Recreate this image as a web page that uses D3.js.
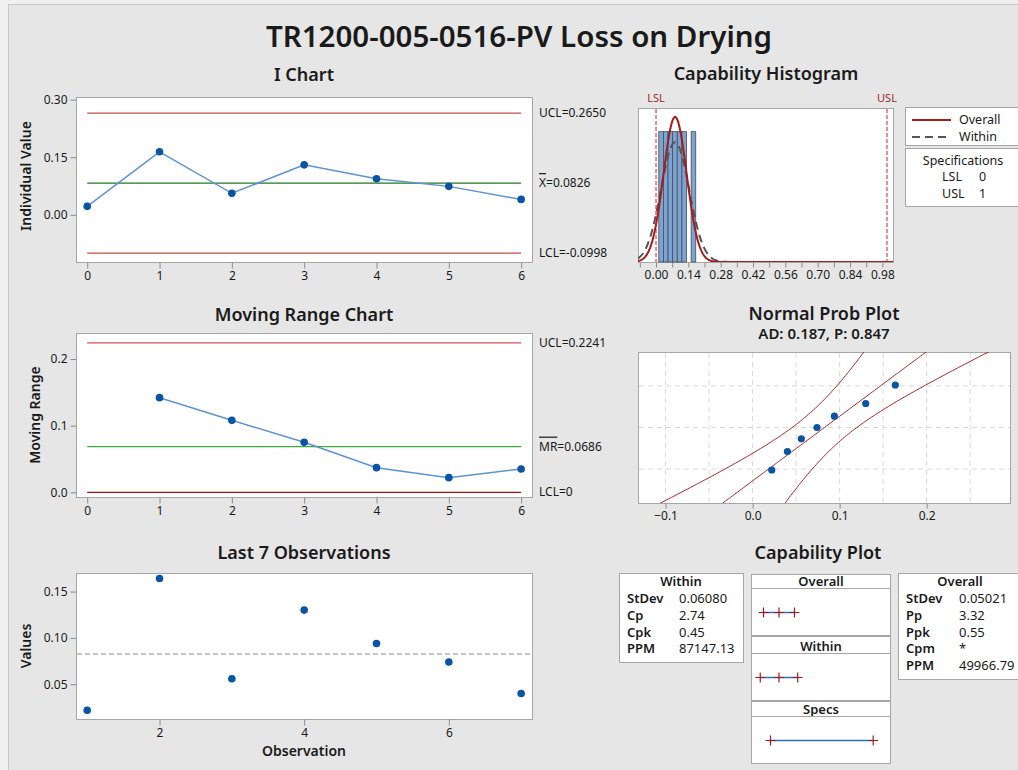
<!DOCTYPE html>
<html>
<head>
<meta charset="utf-8">
<script src="https://cdn.jsdelivr.net/npm/d3@7"></script>
<style>
body { margin: 0; background: #f0f0f0; }
svg text { font-family: "Noto Sans", "Open Sans", sans-serif; fill: #1a1a1a; }
.tick text { font-size: 12px; }
.tick line { stroke: #8c8c8c; }
</style>
</head>
<body>
<script>
var subgroups = [0, 1, 2, 3, 4, 5, 6];
var observations = [0.022, 0.164, 0.056, 0.130, 0.094, 0.074, 0.040];
var movingRanges = [null, 0.142, 0.108, 0.075, 0.037, 0.022, 0.035];
var obsNumbers = [1, 2, 3, 4, 5, 6, 7];
var iLimits = [0.2650, 0.0826, -0.0998];
var mrLimits = [0.2241, 0.0686, 0];
var specLimits = [0, 1];
var processMean = 0.0826, sdWithin = 0.06080, sdOverall = 0.05021;
var histEdges = [0.012, 0.032, 0.052, 0.072, 0.092, 0.112, 0.132, 0.152, 0.172];
var histTicks = [0, 0.14, 0.28, 0.42, 0.56, 0.70, 0.84, 0.98];
var probScores = [-1.31, -0.74, -0.35, 0, 0.35, 0.74, 1.31];
var probGridScores = [-1.2816, 0, 1.2816];
var probTicks = [-0.1, 0.0, 0.1, 0.2];
var withinRows = [['StDev', '0.06080'], ['Cp', '2.74'], ['Cpk', '0.45'], ['PPM', '87147.13']];
var overallRows = [['StDev', '0.05021'], ['Pp', '3.32'], ['Ppk', '0.55'], ['Cpm', '*'], ['PPM', '49966.79']];

var width = 1018, height = 770;
var svg = d3.select('body').append('svg')
    .attr('width', width)
    .attr('height', height);

//frame
svg.append('rect').attr('x', 8.5).attr('y', 4.5).attr('width', 1030).attr('height', 790)
    .attr('fill', '#e6e6e6').attr('stroke', '#c8c8c8');

svg.append('text').attr('x', 519).attr('y', 47).attr('text-anchor', 'middle')
    .style('font-size', '29.5px').style('font-weight', 600)
    .text('TR1200-005-0516-PV Loss on Drying');

function panelTitle(x, y, txt, size) {
    svg.append('text').attr('x', x).attr('y', y).attr('text-anchor', 'middle')
        .style('font-size', (size || 18) + 'px').style('font-weight', 600).text(txt);
}

function plotBox(x0, y0, x1, y1) {
    svg.append('rect').attr('x', x0 + 0.5).attr('y', y0 + 0.5)
        .attr('width', x1 - x0).attr('height', y1 - y0)
        .attr('fill', '#fff').attr('stroke', '#a6a6a6');
}

function drawAxes(x, y, xt, yt, xf, yf) {
    var xr = x.range(), yr = y.range();
    var gx = svg.append('g').attr('transform', 'translate(0,' + (yr[0] + 0.5) + ')')
        .call(d3.axisBottom(x).tickValues(xt).tickFormat(xf).tickSize(6).tickPadding(3));
    gx.select('.domain').remove();
    var gy = svg.append('g').attr('transform', 'translate(' + (xr[0] + 0.5) + ',0)')
        .call(d3.axisLeft(y).tickValues(yt).tickFormat(yf).tickSize(6).tickPadding(3));
    gy.select('.domain').remove();
}

function axisTitle(x, y, txt, rot) {
    svg.append('text').attr('transform', 'translate(' + x + ',' + y + ')' + (rot ? ' rotate(-90)' : ''))
        .attr('text-anchor', 'middle').style('font-size', '14px').style('font-weight', 600).text(txt);
}

function hline(x, y, xa, xb, v, color) {
    svg.append('line').attr('x1', x(xa)).attr('x2', x(xb))
        .attr('y1', y(v)).attr('y2', y(v)).attr('stroke', color).attr('stroke-width', 1.3);
}

function limitLabel(xp, yp, parts) {
    var t = svg.append('text').attr('x', xp).attr('y', yp + 4).style('font-size', '12px');
    parts.forEach(function(p) {
        t.append('tspan').style('text-decoration', p[1] ? 'overline' : null).text(p[0]);
    });
}

// ---------- I Chart ----------
var xI = d3.scaleLinear().domain([-0.155, 6.15]).range([76, 532]);
var yI = d3.scaleLinear().domain([-0.123, 0.3068]).range([262, 97]);
panelTitle(304, 81, 'I Chart');
plotBox(76, 97, 532, 262);
drawAxes(xI, yI, subgroups, [0, 0.15, 0.30], d3.format('d'), d3.format('.2f'));
axisTitle(31, 176, 'Individual Value', true);
hline(xI, yI, 0, 6, iLimits[0], '#c0504d');
hline(xI, yI, 0, 6, iLimits[1], '#1f7a1f');
hline(xI, yI, 0, 6, iLimits[2], '#c0504d');
svg.append('path').datum(observations)
    .attr('d', d3.line().x(function(d, i) { return xI(subgroups[i]); }).y(function(d) { return yI(d); }))
    .attr('fill', 'none').attr('stroke', '#5e92d2').attr('stroke-width', 1.5);
svg.selectAll('.iDot').data(observations).enter().append('circle')
    .attr('cx', function(d, i) { return xI(subgroups[i]); }).attr('cy', function(d) { return yI(d); })
    .attr('r', 3.8).attr('fill', '#0a54a5');
limitLabel(539, yI(iLimits[0]), [['UCL=0.2650']]);
limitLabel(539, yI(iLimits[1]), [['X', true], ['=0.0826']]);
limitLabel(539, yI(iLimits[2]), [['LCL=-0.0998']]);

// ---------- Moving Range ----------
var yMR = d3.scaleLinear().domain([-0.007, 0.239]).range([497, 333]);
panelTitle(304, 321, 'Moving Range Chart');
plotBox(76, 333, 532, 497);
drawAxes(xI, yMR, subgroups, [0, 0.1, 0.2], d3.format('d'), d3.format('.1f'));
axisTitle(40, 415, 'Moving Range', true);
hline(xI, yMR, 0, 6, mrLimits[0], '#cc5555');
hline(xI, yMR, 0, 6, mrLimits[1], '#3daa3d');
hline(xI, yMR, 0, 6, mrLimits[2], '#a01010');
var mrPts = movingRanges.map(function(d, i) { return [subgroups[i], d]; }).filter(function(d) { return d[1] !== null; });
svg.append('path').datum(mrPts)
    .attr('d', d3.line().x(function(d) { return xI(d[0]); }).y(function(d) { return yMR(d[1]); }))
    .attr('fill', 'none').attr('stroke', '#5e92d2').attr('stroke-width', 1.5);
svg.selectAll('.mrDot').data(mrPts).enter().append('circle')
    .attr('cx', function(d) { return xI(d[0]); }).attr('cy', function(d) { return yMR(d[1]); })
    .attr('r', 3.8).attr('fill', '#0a54a5');
limitLabel(539, yMR(mrLimits[0]), [['UCL=0.2241']]);
limitLabel(539, yMR(mrLimits[1]), [['MR', true], ['=0.0686']]);
limitLabel(539, yMR(mrLimits[2]), [['LCL=0']]);

// ---------- Last 7 Observations ----------
var xL = d3.scaleLinear().domain([0.845, 7.15]).range([76, 532]);
var yL = d3.scaleLinear().domain([0.0125, 0.170]).range([719, 573]);
panelTitle(304, 559, 'Last 7 Observations');
plotBox(76, 573, 532, 719);
drawAxes(xL, yL, [2, 4, 6], [0.05, 0.10, 0.15], d3.format('d'), d3.format('.2f'));
axisTitle(31, 646, 'Values', true);
axisTitle(304, 756, 'Observation', false);
svg.append('line').attr('x1', 77).attr('x2', 532).attr('y1', yL(processMean)).attr('y2', yL(processMean))
    .attr('stroke', '#b4b4b4').attr('stroke-width', 1.3).attr('stroke-dasharray', '5,3');
svg.selectAll('.lDot').data(observations).enter().append('circle')
    .attr('cx', function(d, i) { return xL(obsNumbers[i]); }).attr('cy', function(d) { return yL(d); })
    .attr('r', 3.8).attr('fill', '#0a54a5');

// ---------- Capability Histogram ----------
var xH = d3.scaleLinear().domain([-0.078, 1.026]).range([638, 893]);
var yH = d3.scaleLinear().domain([0, 8.44]).range([262, 108]);
panelTitle(766, 80, 'Capability Histogram');
plotBox(638, 108, 893, 262);
var gxH = svg.append('g').attr('transform', 'translate(0,262.5)')
    .call(d3.axisBottom(xH).tickValues(d3.range(-0.07, 1.0, 0.07)).tickFormat(function(d) {
        var m = histTicks.find(function(t) { return Math.abs(t - d) < 1e-6; });
        return m === undefined ? '' : d3.format('.2f')(m);
    }).tickSize(5).tickPadding(3));
gxH.select('.domain').remove();
var bins = d3.bin().domain([histEdges[0], histEdges[histEdges.length - 1]]).thresholds(histEdges.slice(1, -1))(observations);
var n = observations.length;
svg.selectAll('.bar').data(bins.filter(function(b) { return b.length > 0; })).enter().append('rect')
    .attr('x', function(b) { return xH(b.x0); })
    .attr('width', function(b) { return xH(b.x1) - xH(b.x0); })
    .attr('y', function(b) { return yH(b.length / (n * (b.x1 - b.x0))); })
    .attr('height', function(b) { return 262 - yH(b.length / (n * (b.x1 - b.x0))); })
    .attr('fill', '#7aa3d6').attr('stroke', '#4d4d4d').attr('stroke-width', 0.8);
svg.append('clipPath').attr('id', 'hclip').append('rect').attr('x', 638).attr('y', 108).attr('width', 255).attr('height', 154);
function normPdf(x, m, s) { return Math.exp(-0.5 * Math.pow((x - m) / s, 2)) / (s * Math.sqrt(2 * Math.PI)); }
var gridX = d3.range(-0.08, 1.03, 0.002);
svg.append('path').datum(gridX).attr('clip-path', 'url(#hclip)')
    .attr('d', d3.line().x(function(d) { return xH(d); }).y(function(d) { return yH(normPdf(d, processMean, sdWithin)); }))
    .attr('fill', 'none').attr('stroke', '#555').attr('stroke-width', 2).attr('stroke-dasharray', '8,5');
svg.append('path').datum(gridX).attr('clip-path', 'url(#hclip)')
    .attr('d', d3.line().x(function(d) { return xH(d); }).y(function(d) { return yH(normPdf(d, processMean, sdOverall)); }))
    .attr('fill', 'none').attr('stroke', '#a61b1b').attr('stroke-width', 2);
specLimits.forEach(function(s, i) {
    svg.append('line').attr('x1', xH(s)).attr('x2', xH(s)).attr('y1', 109).attr('y2', 262)
        .attr('stroke', '#e01b1b').attr('stroke-width', 1).attr('stroke-dasharray', '4,2');
    svg.append('text').attr('x', xH(s)).attr('y', 102).attr('text-anchor', 'middle')
        .style('font-size', '11px').style('fill', '#9c2a2a').text(i === 0 ? 'LSL' : 'USL');
});
// legend
svg.append('rect').attr('x', 905.5).attr('y', 107.5).attr('width', 130).attr('height', 38)
    .attr('fill', '#fff').attr('stroke', '#a6a6a6');
svg.append('line').attr('x1', 912).attr('x2', 951).attr('y1', 120).attr('y2', 120).attr('stroke', '#a61b1b').attr('stroke-width', 2);
svg.append('line').attr('x1', 912).attr('x2', 951).attr('y1', 137).attr('y2', 137).attr('stroke', '#555').attr('stroke-width', 2).attr('stroke-dasharray', '8,5');
svg.append('text').attr('x', 959).attr('y', 124).style('font-size', '12.5px').text('Overall');
svg.append('text').attr('x', 959).attr('y', 141).style('font-size', '12.5px').text('Within');
svg.append('rect').attr('x', 905.5).attr('y', 148.5).attr('width', 130).attr('height', 58)
    .attr('fill', '#fff').attr('stroke', '#a6a6a6');
svg.append('text').attr('x', 963).attr('y', 165).attr('text-anchor', 'middle').style('font-size', '12.5px').text('Specifications');
['LSL', 'USL'].forEach(function(lbl, i) {
    svg.append('text').attr('x', 942).attr('y', 181 + i * 17).style('font-size', '12.5px').text(lbl);
    svg.append('text').attr('x', 979).attr('y', 181 + i * 17).style('font-size', '12.5px').text(specLimits[i]);
});

// ---------- Normal Prob Plot ----------
var xN = d3.scaleLinear().domain([-0.1317, 0.2958]).range([638, 1010]);
var yN = d3.scaleLinear().domain([-2.326, 2.326]).range([503, 352]);
panelTitle(824, 320, 'Normal Prob Plot');
svg.append('text').attr('x', 824).attr('y', 339).attr('text-anchor', 'middle')
    .style('font-size', '15px').style('font-weight', 600).text('AD: 0.187, P: 0.847');
plotBox(638, 352, 1010, 503);
d3.range(-0.1, 0.26, 0.05).forEach(function(v) {
    svg.append('line').attr('x1', xN(v)).attr('x2', xN(v)).attr('y1', 353).attr('y2', 503)
        .attr('stroke', '#d9d9d9').attr('stroke-dasharray', '5,4');
});
probGridScores.forEach(function(z) {
    svg.append('line').attr('x1', 639).attr('x2', 1010).attr('y1', yN(z)).attr('y2', yN(z))
        .attr('stroke', '#d9d9d9').attr('stroke-dasharray', '5,4');
});
var gxN = svg.append('g').attr('transform', 'translate(0,503.5)')
    .call(d3.axisBottom(xN).tickValues(probTicks).tickFormat(d3.format('.1f')).tickSize(5).tickPadding(3));
gxN.select('.domain').remove();
svg.append('clipPath').attr('id', 'nclip').append('rect').attr('x', 638).attr('y', 352).attr('width', 372).attr('height', 151);
var zGrid = d3.range(-2.6, 2.61, 0.05);
function band(k) {
    return d3.line()
        .x(function(z) { return xN(processMean + z * sdOverall + k * 1.96 * sdOverall * Math.sqrt((1 + z * z / 2) / n)); })
        .y(function(z) { return yN(z); });
}
[-1, 0, 1].forEach(function(k) {
    svg.append('path').datum(zGrid).attr('clip-path', 'url(#nclip)')
        .attr('d', band(k)).attr('fill', 'none').attr('stroke', '#a52a2a').attr('stroke-width', 1);
});
var sorted = observations.slice().sort(d3.ascending);
svg.selectAll('.nDot').data(sorted).enter().append('circle')
    .attr('cx', function(d) { return xN(d); }).attr('cy', function(d, i) { return yN(probScores[i]); })
    .attr('r', 3.6).attr('fill', '#0a54a5');

// ---------- Capability Plot ----------
panelTitle(818, 559, 'Capability Plot');
function statBox(x0, y0, w, h, head, rows, lx, vx) {
    svg.append('rect').attr('x', x0 + 0.5).attr('y', y0 + 0.5).attr('width', w).attr('height', h)
        .attr('fill', '#fff').attr('stroke', '#a6a6a6');
    svg.append('text').attr('x', x0 + w / 2).attr('y', y0 + 13).attr('text-anchor', 'middle')
        .style('font-size', '13px').style('font-weight', 600).text(head);
    rows.forEach(function(r, i) {
        svg.append('text').attr('x', lx).attr('y', y0 + 30 + i * 16.8).style('font-size', '13px').style('font-weight', 600).text(r[0]);
        svg.append('text').attr('x', vx).attr('y', y0 + 30 + i * 16.8).style('font-size', '13px').text(r[1]);
    });
}
statBox(619, 573, 124, 89, 'Within', withinRows, 627, 679);
statBox(898, 573, 124, 106, 'Overall', overallRows, 906, 959);

var xC = d3.scaleLinear().domain([-0.19, 1.1636]).range([751, 890]);
var capRows = [
    ['Overall', [processMean - 3 * sdOverall, processMean, processMean + 3 * sdOverall]],
    ['Within', [processMean - 3 * sdWithin, processMean, processMean + 3 * sdWithin]],
    ['Specs', specLimits]
];
var capTop = [574, 636, 701], capHead = [14, 17, 15];
capRows.forEach(function(r, i) {
    var t = capTop[i], hh = capHead[i], pb = t + hh + 47;
    svg.append('rect').attr('x', 751.5).attr('y', t + 0.5).attr('width', 139).attr('height', hh)
        .attr('fill', '#fff').attr('stroke', '#a6a6a6');
    svg.append('text').attr('x', 821).attr('y', t + hh - 2.5).attr('text-anchor', 'middle')
        .style('font-size', '13px').style('font-weight', 600).text(r[0]);
    svg.append('rect').attr('x', 751.5).attr('y', t + hh + 0.5).attr('width', 139).attr('height', 47)
        .attr('fill', '#fff').attr('stroke', '#a6a6a6');
    var cy = t + hh + 24.5;
    var ext = d3.extent(r[1]);
    svg.append('line').attr('x1', xC(ext[0])).attr('x2', xC(ext[1])).attr('y1', cy).attr('y2', cy)
        .attr('stroke', '#2f6fbf').attr('stroke-width', 1.5);
    r[1].forEach(function(v) {
        var cx = xC(v);
        svg.append('path').attr('d', 'M' + (cx - 5) + ',' + cy + 'H' + (cx + 5) + 'M' + cx + ',' + (cy - 5) + 'V' + (cy + 5))
            .attr('stroke', '#a01c1c').attr('stroke-width', 1.2);
    });
});
</script>
</body>
</html>
